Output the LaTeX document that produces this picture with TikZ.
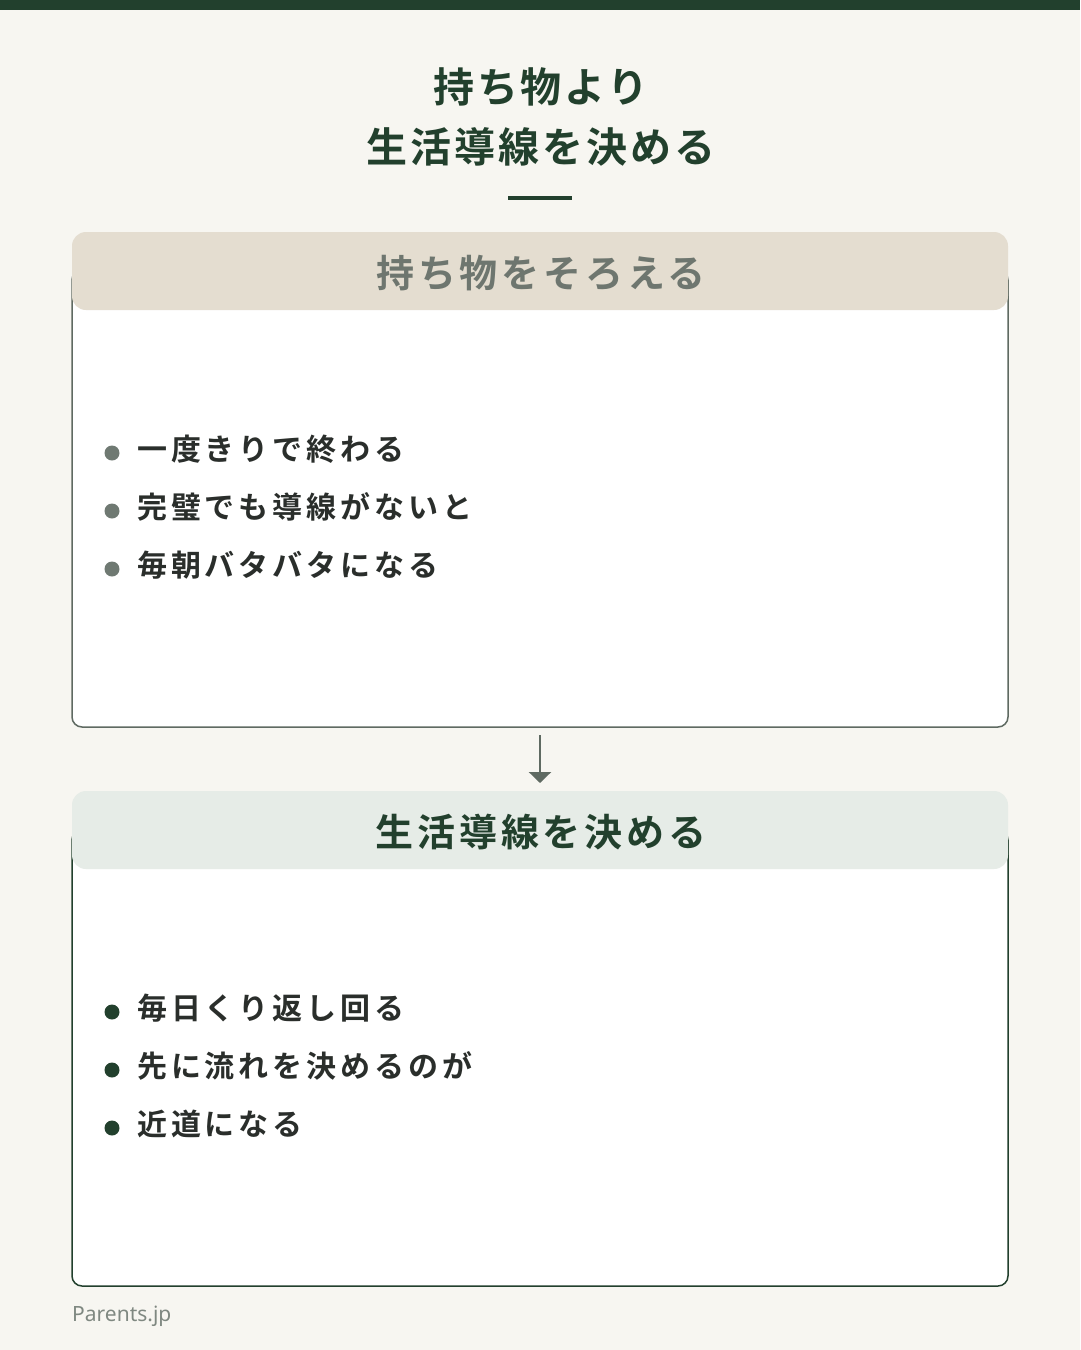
\documentclass[tikz,border=0pt]{standalone}
\usepackage{fontspec}
\setmainfont{Noto Sans CJK JP}
\newfontfamily\jpb{Noto Sans CJK JP Bold}
\newfontfamily\jpt[LetterSpace=7]{Noto Sans CJK JP Bold}
\newfontfamily\jph[LetterSpace=10]{Noto Sans CJK JP Bold}
\newfontfamily\jpi[LetterSpace=13]{Noto Sans CJK JP Bold}
\newfontfamily\lat{Noto Sans}
\usetikzlibrary{arrows.meta}
\definecolor{bg}{HTML}{F7F6F1}
\definecolor{dk}{HTML}{22402D}
\definecolor{gr}{HTML}{5F6A62}
\definecolor{beige}{HTML}{E4DDD0}
\definecolor{lgreen}{HTML}{E6ECE7}
\definecolor{htxt}{HTML}{6E766F}
\definecolor{txt}{HTML}{2A2E2B}
\tikzset{x=1pt,y=-1pt,
 card/.style={draw=#1,line width=1.5pt,fill=white,rounded corners=10pt},
 head/.style={fill=#1,rounded corners=14pt},
 htext/.style={font=\jph\fontsize{38}{40}\selectfont,anchor=center},
 item/.style={font=\jpi\fontsize{30}{32}\selectfont,anchor=west,text=txt,inner sep=0pt},
 dot/.style={circle,fill=#1,minimum size=15pt,inner sep=0pt}}
\begin{document}
\begin{tikzpicture}
\useasboundingbox (0,0) rectangle (1080,1350);
\fill[bg] (0,0) rectangle (1080,1350);
\fill[dk] (0,0) rectangle (1080,10);
\node[font=\jpt\fontsize{41}{44}\selectfont,text=dk] (t1) at (541,87) {持ち物より};
\node[font=\jpt\fontsize{41}{44}\selectfont,text=dk] (t2) at (541,147) {生活導線を決める};
\fill[dk] (508,196) rectangle (572,200);
% card 1
\draw[card=gr] (72,270) rectangle (1008,727);
\fill[head=beige] (72,232) rectangle (1008,310);
\node[htext,text=htxt] (h1) at (541,273) {持ち物をそろえる};
\foreach \y/\t [count=\i] in {449/一度きりで終わる,507/完璧でも導線がないと,565/毎朝バタバタになる}{
 \node[dot=gr!90] (a\i) at (112,\y+4) {};
 \node[item] (b\i) at (137,\y) {\t};}
% arrow
\coordinate (s) at (540,735);
\coordinate (e) at (540,783);
\draw[gr,line width=2.5pt,-{Triangle[width=22pt,length=11pt]}] (s) -- (e);
% card 2
\draw[card=dk] (72,830) rectangle (1008,1286);
\fill[head=lgreen] (72,791) rectangle (1008,869);
\node[htext,text=dk] (h2) at (541,832) {生活導線を決める};
\foreach \y/\t [count=\i] in {1008/毎日くり返し回る,1066/先に流れを決めるのが,1124/近道になる}{
 \node[dot=dk] (c\i) at (112,\y+4) {};
 \node[item] (d\i) at (137,\y) {\t};}
\node[font=\lat\fontsize{21}{24}\selectfont,text=gr!80,anchor=west,inner sep=0pt] (f) at (72,1316) {Parents.jp};
\end{tikzpicture}
\end{document}
